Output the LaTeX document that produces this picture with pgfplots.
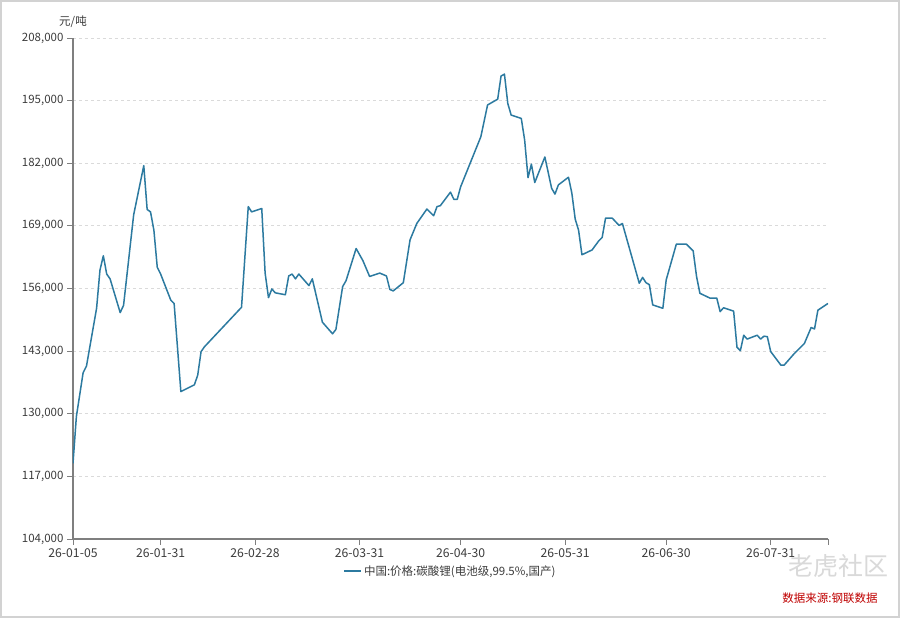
\documentclass[border=0pt]{standalone}
\usepackage{fontspec}
\setmainfont{Noto Sans CJK SC}
\usepackage{pgfplots}
\pgfplotsset{compat=1.18}
\definecolor{linec}{RGB}{44,122,160}
\definecolor{axc}{RGB}{127,127,127}
\definecolor{gridc}{RGB}{218,218,218}
\definecolor{txt}{RGB}{60,60,60}
\pgfplotstableread{
day value
0 119700
1 129400
3 138500
4 139900
7 151900
8 159800
9 162800
10 159000
11 158000
14 151000
15 152500
18 171300
21 181500
22 172400
23 171900
24 168100
25 160400
26 159000
29 153600
30 152900
32 134600
36 136000
37 138000
38 142900
39 143900
50 152100
52 173000
53 171900
56 172600
57 159200
58 154100
59 155900
60 155100
63 154700
64 158600
65 159000
66 158000
67 159000
70 156600
71 158000
74 149000
77 146600
78 147500
80 156400
81 157600
84 164300
86 161800
88 158500
91 159200
93 158600
94 155800
95 155500
98 157200
100 166100
102 169500
105 172500
107 171100
108 173000
109 173200
112 176000
113 174500
114 174500
115 177100
121 187500
123 194100
126 195300
127 200100
128 200500
129 194400
130 192000
133 191300
134 186800
135 179000
136 181800
137 178000
140 183300
142 176800
143 175600
144 177500
147 179100
148 175800
149 170400
150 168100
151 163000
154 164000
156 165900
157 166600
158 170600
160 170600
162 169100
163 169500
168 157100
169 158300
170 157200
171 156800
172 152600
175 151900
176 157800
179 165200
182 165200
184 163800
185 158500
186 155000
189 154000
191 154000
192 151200
193 152000
196 151300
197 143800
198 143100
199 146300
200 145500
203 146300
204 145500
205 146100
206 146000
207 142900
210 140100
211 140100
214 142500
217 144600
219 147900
220 147600
221 151500
224 152900
}\pricedata
\begin{document}
\begin{tikzpicture}
\fill[white] (0pt,0pt) rectangle (900pt,618pt);
\draw[gray!35, line width=2pt] (1pt,1pt) rectangle (899pt,617pt);
\begin{axis}[
  at={(73pt,79pt)}, anchor=south west,
  width=755pt, height=501pt, scale only axis,
  xmin=0, xmax=224, ymin=104000, ymax=208000,
  axis x line*=bottom, axis y line*=left,
  axis line style={axc, line width=1.1pt, -},
  tick align=outside,
  major tick length=6pt,
  tick style={axc, line width=0.9pt},
  xtick={0,26,54,85,115,146,176,207,224},
  xticklabels={26-01-05,26-01-31,26-02-28,26-03-31,26-04-30,26-05-31,26-06-30,26-07-31,},
  ytick={104000,117000,130000,143000,156000,169000,182000,195000,208000},
  scaled y ticks=false,
  /pgf/number format/fixed,
  /pgf/number format/1000 sep={,},
  /pgf/number format/assume math mode=true,
  yticklabel style={font=\fontsize{11.5}{13}\selectfont, text=txt},
  xticklabel style={font=\fontsize{12.2}{14}\selectfont, text=txt},
  ymajorgrids,
  major grid style={gridc, dash pattern=on 3pt off 3pt, line width=0.8pt},
  legend style={at={(0.5,-0.064)}, anchor=center, draw=none, fill=none,
    font=\fontsize{11.5}{13}\selectfont, text=txt},
  legend image code/.code={\draw[linec, line width=1.6pt] (0pt,0pt) -- (17pt,0pt);},
]
\addplot[linec, line width=1.5pt, line join=round] table[x=day, y=value] {\pricedata};
\addlegendentry{中国:价格:碳酸锂(电池级,99.5\%,国产)}
\end{axis}
\node[font=\fontsize{11.5}{13}\selectfont, text=txt] at (73pt,596pt) {元/吨};
\node[font=\fontsize{25}{28}\selectfont, text=gray!30] at (838pt,52pt) {老虎社区};
\node[font=\fontsize{11.5}{13}\selectfont, text=red!75!black] at (830pt,20pt) {数据来源:钢联数据};
\end{tikzpicture}
\end{document}
